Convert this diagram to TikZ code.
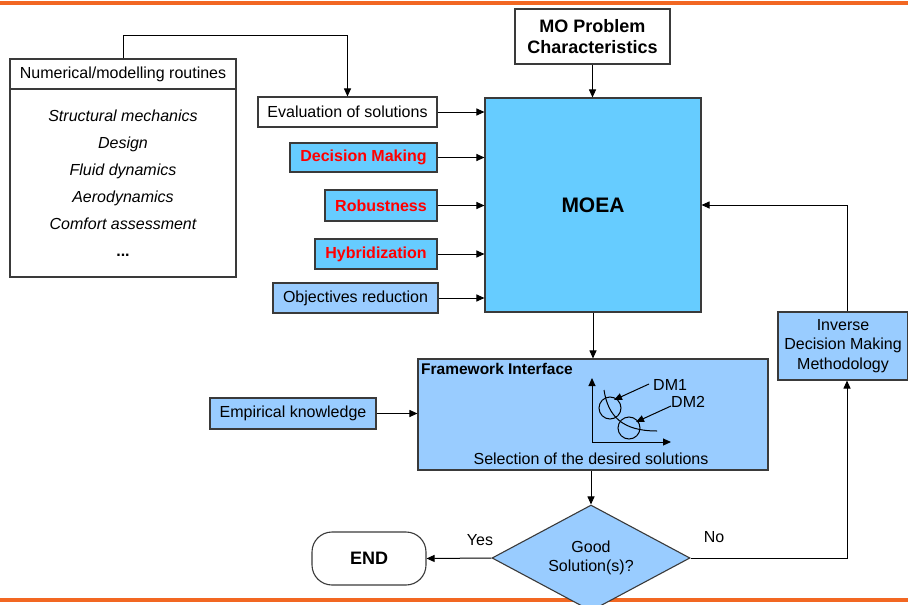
\documentclass[tikz,border=0pt]{standalone}
\usepackage{fontspec}
\setmainfont{Liberation Sans}
\usetikzlibrary{arrows.meta,shapes.geometric}
\definecolor{orbar}{HTML}{F26722}
\definecolor{bluea}{HTML}{66CCFF}
\definecolor{blueb}{HTML}{99CCFF}
\definecolor{redt}{HTML}{FF0000}
\definecolor{edge}{HTML}{3A3A3A}
\tikzset{
  box/.style={draw=edge, line width=1.1pt, inner sep=0pt, font=\fontsize{16pt}{19pt}\selectfont, align=center},
  redbox/.style={box, fill=bluea, text=redt, font=\fontsize{16pt}{19pt}\selectfont\bfseries},
  lbbox/.style={box, fill=blueb},
  arr/.style={draw=black, line width=1pt, -{Triangle[length=8pt,width=7pt]}},
  plain/.style={draw=black, line width=1pt},
  lbl/.style={inner sep=0pt, font=\fontsize{16pt}{19pt}\selectfont}
}
\begin{document}
\begin{tikzpicture}[x=1pt,y=-1pt]
\useasboundingbox (0,0) rectangle (908,605);
% orange bars
\fill[orbar] (0,0.5) rectangle (908,5);
\fill[orbar] (0,598) rectangle (908,602);

% numerical routines
\node[box, minimum width=226pt, minimum height=30pt] (numt) at (123,74) {Numerical/modelling routines};
\node[box, minimum width=226pt, minimum height=188pt, font=\fontsize{16pt}{27pt}\selectfont\itshape] (numb) at (123,183)
  {Structural mechanics\\Design\\Fluid dynamics\\Aerodynamics\\Comfort assessment\\\textup{\textbf{...}}};

% input boxes
\node[box, minimum width=179pt, minimum height=30pt] (eval) at (347.5,112) {Evaluation of solutions};
\node[redbox, minimum width=147pt, minimum height=29pt] (dm) at (363.5,157.5) {Decision Making};
\node[redbox, minimum width=112pt, minimum height=31pt] (rob) at (381,205.5) {Robustness};
\node[redbox, minimum width=122pt, minimum height=30pt] (hyb) at (376,254) {Hybridization};
\node[lbbox, minimum width=165pt, minimum height=30pt] (obj) at (355.5,298) {Objectives reduction};

% MOEA
\node[box, fill=bluea, minimum width=216pt, minimum height=214pt, font=\fontsize{21pt}{25pt}\selectfont\bfseries] (moea) at (593,205) {MOEA};
\node[box, minimum width=155pt, minimum height=55pt, font=\fontsize{18pt}{21.5pt}\selectfont\bfseries] (mop) at (592.5,36.5) {MO Problem\\Characteristics};

% framework
\node[lbbox, minimum width=350pt, minimum height=111pt] (fw) at (593,414.5) {};
\node[lbl, anchor=west, font=\fontsize{15.5pt}{19pt}\selectfont\bfseries] (fwt) at (421,369) {Framework Interface};
\node[lbl] (sel) at (591,459) {Selection of the desired solutions};
\node[lbbox, minimum width=166pt, minimum height=31pt] (emp) at (293,413.5) {Empirical knowledge};

% small graph
\coordinate (o) at (592,442);
\coordinate (ya) at (592,378);
\coordinate (xa) at (671,442);
\draw[arr] (o) -- (ya);
\draw[arr] (o) -- (xa);
\draw[plain] (604,390) .. controls (608,416) and (622,431) .. (657,431);
\draw[plain] (610,408) circle (11);
\draw[plain] (629,428) circle (11);
\node[lbl, anchor=west] (dm1) at (653,385) {DM1};
\node[lbl, anchor=west] (dm2) at (671,402) {DM2};
\draw[arr] (dm1.west) ++(-4,-1) -- (614,400);
\draw[arr] (dm2.west) ++(0,4) -- (636,422);

% inverse DM
\node[lbbox, minimum width=130pt, minimum height=68pt, font=\fontsize{16pt}{19.5pt}\selectfont] (inv) at (843,346) {Inverse\\Decision Making\\Methodology};

% decision
\node[draw=edge, line width=1.1pt, fill=blueb, diamond, aspect=1.87, minimum width=198pt, minimum height=106pt, inner sep=0pt, align=center, font=\fontsize{16pt}{19pt}\selectfont] (dia) at (591,558) {Good\\Solution(s)?};
\node[draw=edge, line width=1.1pt, rounded corners=20pt, minimum width=114pt, minimum height=53pt, font=\fontsize{18pt}{21pt}\selectfont\bfseries] (endn) at (369,558.5) {END};
\node[lbl] (yes) at (480,540) {Yes};
\node[lbl] (no) at (714,537) {No};

% connectors
\coordinate (c1) at (123,35);
\draw[arr] (numt.north) -- (c1) -| (eval.north);
\foreach \n in {eval,dm,rob,hyb,obj}{\draw[arr] (\n.east) -- (\n.east -| moea.west);}
\draw[arr] (mop.south) -- (mop.south |- moea.north);
\draw[arr] (moea.south) -- (fw.north);
\draw[arr] (emp.east) -- (emp.east -| fw.west);
\draw[arr] (dia.north |- fw.south) -- (dia.north);
\draw[arr] (dia.west) -- (endn.east);
\draw[arr] (dia.east) -| ([xshift=4pt]inv.south);
\draw[arr] ([xshift=4pt]inv.north) |- (moea.east);
\end{tikzpicture}
\end{document}
